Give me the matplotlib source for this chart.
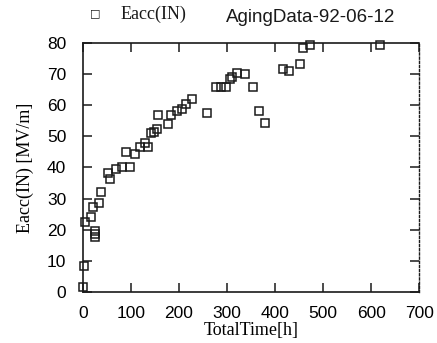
import matplotlib
matplotlib.use("Agg")
import matplotlib.pyplot as plt

# Data
time_h = [0, 2, 5, 17, 21, 24, 24, 24, 33, 38, 51, 56, 69, 81, 98, 90, 108,
          119, 129, 135, 142, 147, 154, 156, 178, 184, 196, 207, 214, 226,
          259, 276, 287, 297, 307, 311, 320, 338, 354, 366, 380, 417, 429,
          451, 459, 472, 618]
eacc = [1.7, 8.3, 22.4, 24.2, 27.2, 19.7, 18.6, 17.6, 28.7, 32.2, 38.1, 36.3,
        39.4, 40.2, 40.2, 45.1, 44.2, 46.5, 47.8, 46.5, 51.2, 51.5, 52.3, 56.8,
        53.9, 56.8, 58.2, 58.8, 60.4, 62.0, 57.4, 65.7, 65.7, 65.7, 68.3, 69.1,
        70.2, 70.0, 65.7, 58.1, 54.2, 71.5, 71.1, 73.2, 78.3, 79.2, 79.2]
xticks = [0, 100, 200, 300, 400, 500, 600, 700]
yticks = [0, 10, 20, 30, 40, 50, 60, 70, 80]

SERIF = ["Liberation Serif", "DejaVu Serif"]
SANS = ["Liberation Sans", "DejaVu Sans"]
ink = "#1a1a1a"

fig = plt.figure(figsize=(4.37, 3.43), dpi=100)
ax = fig.add_axes([0.19, 0.149, 0.769, 0.726])

ax.plot(time_h, eacc, linestyle="none", marker="s", markersize=5.2,
        markerfacecolor="none", markeredgecolor=ink, markeredgewidth=1.1,
        clip_on=False)

ax.set_xlim(0, 700)
ax.set_ylim(0, 80)
ax.set_xticks(xticks)
ax.set_yticks(yticks)
ax.set_xticklabels([str(v) for v in xticks], family=SANS, fontsize=12.5)
ax.set_yticklabels([str(v) for v in yticks], family=SANS, fontsize=12.5)
ax.tick_params(direction="in", length=6.5, width=1.1, color=ink,
               top=True, right=True)
ax.tick_params(axis="x", pad=10)
ax.tick_params(axis="y", pad=12)

for side in ["left", "bottom", "top"]:
    ax.spines[side].set_linewidth(1.2)
    ax.spines[side].set_color(ink)
ax.spines["right"].set_linestyle((0, (1.5, 1.5)))
ax.spines["right"].set_linewidth(1.0)
ax.spines["right"].set_color(ink)

ax.set_xlabel("TotalTime[h]", family=SERIF, fontsize=13, labelpad=1)
ax.set_ylabel("Eacc(IN) [MV/m]", family=SERIF, fontsize=13, labelpad=9)

# legend-like header
fig.text(95 / 437, 1 - 13 / 343, "\u25a1", family=["DejaVu Sans"], fontsize=8,
         ha="center", va="center", color=ink)
fig.text(121 / 437, 1 - 14 / 343, "Eacc(IN)", family=SERIF, fontsize=13,
         ha="left", va="center", color=ink)
fig.text(226 / 437, 1 - 18 / 343, "AgingData-92-06-12", family=SANS,
         fontsize=13.5, ha="left", va="center", color=ink)

fig.savefig("out.png", dpi=100)
